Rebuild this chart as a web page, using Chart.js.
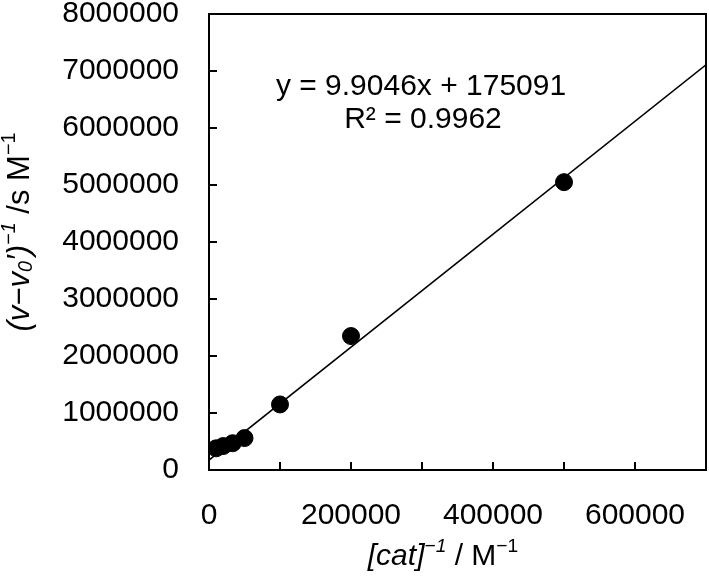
<!DOCTYPE html>
<html>
<head>
<meta charset="utf-8">
<script src="https://cdn.jsdelivr.net/npm/chart.js@4.4.0/dist/chart.umd.min.js"></script>
<style>
  html, body { margin: 0; padding: 0; background: #fff; }
  #wrap { width: 709px; height: 580px; }
</style>
</head>
<body>
<div id="wrap"><canvas id="chart" width="709" height="580"></canvas></div>
<script>
// measured points, [cat]^-1 vs (v - v0')^-1
const catInv = [10000, 20000, 33333, 50000, 100000, 200000, 500000];
const rateInv = [380000, 420000, 470000, 560000, 1150000, 2350000, 5050000];

// linear trendline as printed on the chart
const slope = 9.9046;
const intercept = 175091;
const trendX = [0, 700000];
const eqLines = ['y = 9.9046x + 175091', 'R\u00b2 = 0.9962'];

const FONT = '"Liberation Sans", Arial, sans-serif';
const SIZE = 30;

const points = catInv.map((x, i) => ({x: x, y: rateInv[i]}));
const trend = trendX.map(x => ({x: x, y: slope * x + intercept}));

// draws a run of text pieces, some italic, some raised / lowered
function richText(c, parts, cx, cy, size) {
  let w = 0;
  parts.forEach(p => {
    const sz = p.sup || p.sub ? size * 0.64 : size;
    c.font = (p.it ? 'italic ' : '') + sz + 'px ' + FONT;
    p.w = c.measureText(p.t).width;
    p.sz = sz;
    w += p.w;
  });
  let x = cx - w / 2;
  c.textBaseline = 'middle';
  c.textAlign = 'left';
  parts.forEach(p => {
    c.font = (p.it ? 'italic ' : '') + p.sz + 'px ' + FONT;
    let dy = 0;
    if (p.sup) dy = -size * 0.34;
    if (p.sub) dy = size * 0.22;
    c.fillText(p.t, x, cy + dy);
    x += p.w;
  });
}

const extras = {
  id: 'extras',
  afterDraw(chart) {
    const c = chart.ctx;
    const a = chart.chartArea;
    c.save();
    c.strokeStyle = '#000';
    c.lineWidth = 2;
    c.strokeRect(a.left, a.top, a.right - a.left, a.bottom - a.top);
    c.fillStyle = '#000';

    // x title
    richText(c, [
      {t: '[cat]', it: true},
      {t: '\u22121', it: true, sup: true},
      {t: ' / M'},
      {t: '\u22121', sup: true}
    ], 443, 557, SIZE);

    // y title, rotated
    c.save();
    c.translate(20, 232);
    c.rotate(-Math.PI / 2);
    richText(c, [
      {t: '(v\u2212v', it: true},
      {t: '0', it: true, sub: true},
      {t: '\u2032)', it: true},
      {t: '\u22121', it: true, sup: true},
      {t: ' /s M'},
      {t: '\u22121', sup: true}
    ], 0, 0, 31);
    c.restore();

    // equation
    c.font = SIZE + 'px ' + FONT;
    c.textAlign = 'center';
    c.textBaseline = 'middle';
    c.fillText(eqLines[0], 421, 87);
    c.fillText(eqLines[1], 423, 120);
    c.restore();
  }
};

new Chart(document.getElementById('chart'), {
  type: 'scatter',
  data: {
    datasets: [
      {
        label: 'data',
        data: points,
        backgroundColor: '#000',
        borderColor: '#000',
        pointRadius: 8.5,
        pointHoverRadius: 8.5
      },
      {
        label: 'trend',
        data: trend,
        showLine: true,
        borderColor: '#000',
        borderWidth: 1.6,
        pointRadius: 0,
        fill: false
      }
    ]
  },
  options: {
    responsive: false,
    animation: false,
    events: [],
    layout: {autoPadding: false, padding: {top: 14, right: 3, left: 0, bottom: 0}},
    plugins: {legend: {display: false}, tooltip: {enabled: false}},
    scales: {
      x: {
        type: 'linear',
        min: 0,
        max: 700000,
        afterFit: s => { s.height = 110; s.paddingLeft = 0; s.paddingRight = 0; },
        border: {color: '#000', width: 2},
        grid: {drawOnChartArea: false, color: '#000', lineWidth: 2, tickLength: -8},
        ticks: {
          stepSize: 100000,
          color: '#000',
          padding: 36,
          maxRotation: 0,
          autoSkip: false,
          font: {family: FONT, size: SIZE},
          callback: v => (v % 200000 === 0 && v < 700000) ? String(v) : ''
        }
      },
      y: {
        type: 'linear',
        min: 0,
        max: 8000000,
        afterFit: s => { s.width = 209; s.paddingTop = 0; s.paddingBottom = 0; },
        border: {color: '#000', width: 2},
        grid: {drawOnChartArea: false, color: '#000', lineWidth: 2, tickLength: -8},
        ticks: {
          stepSize: 1000000,
          color: '#000',
          padding: 38,
          autoSkip: false,
          font: {family: FONT, size: SIZE},
          callback: v => String(v)
        }
      }
    }
  },
  plugins: [extras]
});
</script>
</body>
</html>
